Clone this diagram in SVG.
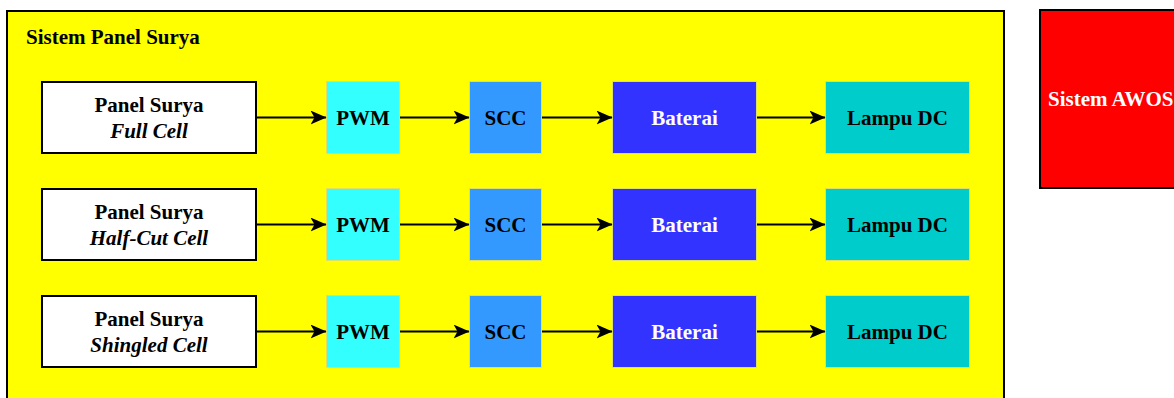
<svg xmlns="http://www.w3.org/2000/svg" width="1174" height="398" viewBox="0 0 1174 398">
<style>
text{font-family:"Liberation Serif","Times New Roman",serif;font-weight:bold;font-size:21px}
.c{text-anchor:middle}
.i{font-style:italic}
.w{fill:#ffffff}
.panel{fill:#ffffff;stroke:#000000;stroke-width:2}
.pwm{fill:#33ffff;stroke:#e0e060;stroke-width:1}
.scc{fill:#3399ff;stroke:#e0e060;stroke-width:1}
.bat{fill:#3333ff;stroke:#e0e060;stroke-width:1}
.lamp{fill:#00cccc;stroke:#e0e060;stroke-width:1}
.conn line{stroke:#000000;stroke-width:2;marker-end:url(#arr)}
</style>
<defs>
<marker id="arr" viewBox="0 0 16 14" refX="15.5" refY="7" markerWidth="16" markerHeight="14" markerUnits="userSpaceOnUse" orient="auto">
<path d="M0,0 L16,7 L0,14 L4,7 Z" fill="#000000"/>
</marker>
</defs>
<rect width="1174" height="398" fill="#ffffff"/>
<g id="sistem-panel-surya">
<rect x="7" y="11" width="997" height="400" fill="#ffff00" stroke="#000000" stroke-width="2"/>
<text x="26" y="44">Sistem Panel Surya</text>
</g>
<g id="sistem-awos">
<rect x="1040" y="10" width="160" height="178" fill="#ff0000" stroke="#000000" stroke-width="2"/>
<text class="w" x="1048" y="106">Sistem AWOS</text>
</g>
<g id="panel1"><rect class="panel" x="42" y="82" width="214" height="71"/><text class="c" x="149" y="112">Panel Surya</text><text class="c i" x="149" y="138">Full Cell</text></g>
<g id="pwm1"><rect class="pwm" x="326.5" y="81.5" width="73" height="72"/><text class="c" x="363" y="125">PWM</text></g>
<g id="scc1"><rect class="scc" x="469.5" y="81.5" width="72" height="72"/><text class="c" x="505.5" y="125">SCC</text></g>
<g id="bat1"><rect class="bat" x="612.5" y="81.5" width="144" height="72"/><text class="c w" x="684.5" y="125">Baterai</text></g>
<g id="lamp1"><rect class="lamp" x="825.5" y="81.5" width="144" height="72"/><text class="c" x="897.5" y="125">Lampu DC</text></g>
<g id="panel2"><rect class="panel" x="42" y="189" width="214" height="71"/><text class="c" x="149" y="219">Panel Surya</text><text class="c i" x="149" y="245">Half-Cut Cell</text></g>
<g id="pwm2"><rect class="pwm" x="326.5" y="188.5" width="73" height="72"/><text class="c" x="363" y="232">PWM</text></g>
<g id="scc2"><rect class="scc" x="469.5" y="188.5" width="72" height="72"/><text class="c" x="505.5" y="232">SCC</text></g>
<g id="bat2"><rect class="bat" x="612.5" y="188.5" width="144" height="72"/><text class="c w" x="684.5" y="232">Baterai</text></g>
<g id="lamp2"><rect class="lamp" x="825.5" y="188.5" width="144" height="72"/><text class="c" x="897.5" y="232">Lampu DC</text></g>
<g id="panel3"><rect class="panel" x="42" y="296" width="214" height="71"/><text class="c" x="149" y="326">Panel Surya</text><text class="c i" x="149" y="352">Shingled Cell</text></g>
<g id="pwm3"><rect class="pwm" x="326.5" y="295.5" width="73" height="72"/><text class="c" x="363" y="339">PWM</text></g>
<g id="scc3"><rect class="scc" x="469.5" y="295.5" width="72" height="72"/><text class="c" x="505.5" y="339">SCC</text></g>
<g id="bat3"><rect class="bat" x="612.5" y="295.5" width="144" height="72"/><text class="c w" x="684.5" y="339">Baterai</text></g>
<g id="lamp3"><rect class="lamp" x="825.5" y="295.5" width="144" height="72"/><text class="c" x="897.5" y="339">Lampu DC</text></g>
<g id="connectors" class="conn">
<line x1="257" y1="117.5" x2="326" y2="117.5"/>
<line x1="400" y1="117.5" x2="469" y2="117.5"/>
<line x1="542" y1="117.5" x2="612" y2="117.5"/>
<line x1="757" y1="117.5" x2="825" y2="117.5"/>
<line x1="257" y1="224.5" x2="326" y2="224.5"/>
<line x1="400" y1="224.5" x2="469" y2="224.5"/>
<line x1="542" y1="224.5" x2="612" y2="224.5"/>
<line x1="757" y1="224.5" x2="825" y2="224.5"/>
<line x1="257" y1="331.5" x2="326" y2="331.5"/>
<line x1="400" y1="331.5" x2="469" y2="331.5"/>
<line x1="542" y1="331.5" x2="612" y2="331.5"/>
<line x1="757" y1="331.5" x2="825" y2="331.5"/>
</g>
</svg>
